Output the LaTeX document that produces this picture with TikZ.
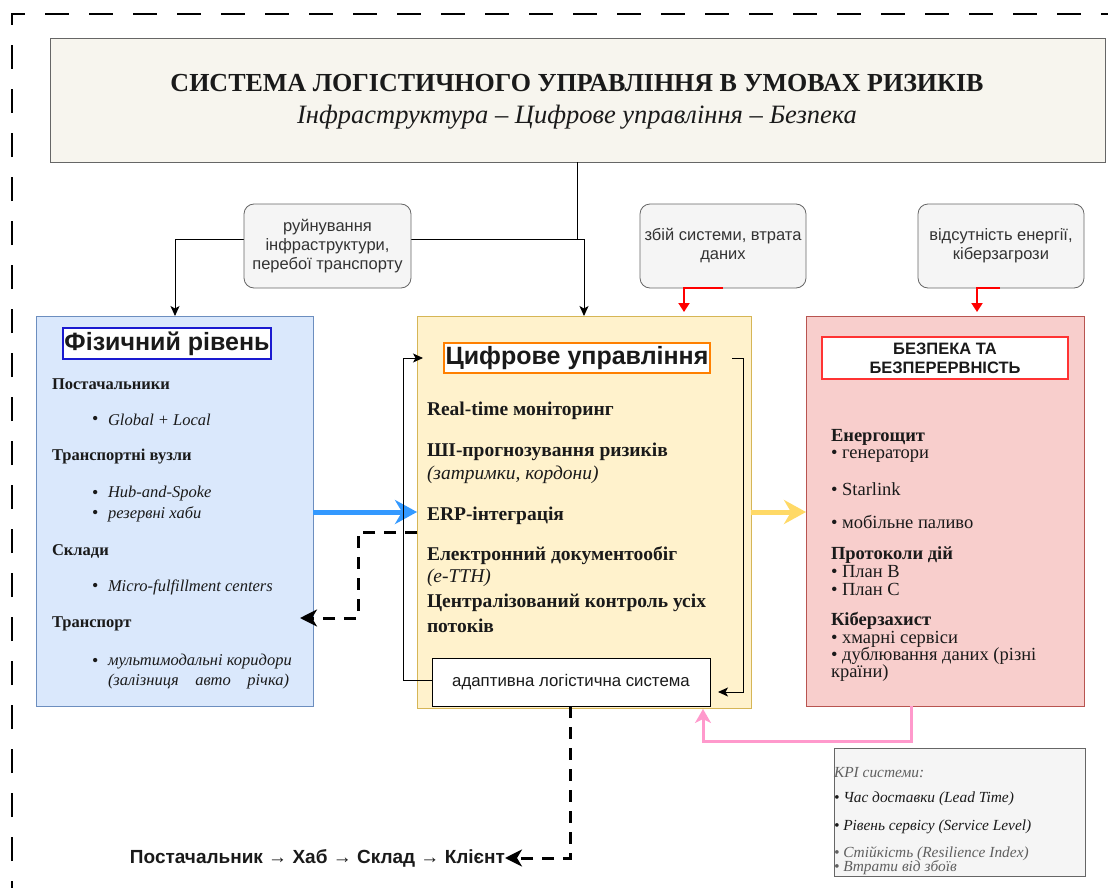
\documentclass[tikz,border=0pt]{standalone}
\usepackage{fontspec}
\setmainfont{Liberation Serif}
\setsansfont{Liberation Sans}
\usetikzlibrary{arrows.meta}
\definecolor{titlefill}{HTML}{F7F5EE}
\definecolor{physfill}{HTML}{DAE8FC}
\definecolor{physdraw}{HTML}{6C8EBF}
\definecolor{digfill}{HTML}{FFF2CC}
\definecolor{digdraw}{HTML}{D6B656}
\definecolor{secfill}{HTML}{F8CECC}
\definecolor{secdraw}{HTML}{B85450}
\definecolor{labfill}{HTML}{F5F5F5}
\definecolor{labdraw}{HTML}{666666}
\definecolor{bluearr}{HTML}{3399FF}
\definecolor{yelarr}{HTML}{FFD966}
\definecolor{pinkarr}{HTML}{FF99CC}
\definecolor{orangeb}{HTML}{FF8000}
\definecolor{blueb}{HTML}{1A1AD0}
\definecolor{redb}{HTML}{FF3333}
\definecolor{txt}{HTML}{1A1A1A}
\definecolor{labtxt}{HTML}{333333}
\definecolor{graytxt}{HTML}{606060}
\begin{document}
\begin{tikzpicture}[x=1pt,y=-1pt,
  every node/.style={inner sep=0pt,outer sep=0pt,text=txt},
  panel/.style={draw,line width=0.9pt},
  labelbox/.style={draw=labdraw,fill=labfill,line width=0.8pt,rounded corners=10pt,text=labtxt,font=\sffamily\fontsize{16.5}{19}\selectfont,align=center},
  headbox/.style={fill=white,line width=1.2pt,font=\sffamily\bfseries\fontsize{25}{28}\selectfont},
  lhead/.style={anchor=west,font=\bfseries\fontsize{16.5}{19}\selectfont},
  litem/.style={anchor=west,font=\itshape\fontsize{16.5}{19}\selectfont},
  lbul/.style={anchor=west,font=\fontsize{18}{19}\selectfont},
  chead/.style={anchor=west,font=\bfseries\fontsize{19.5}{22}\selectfont},
  citem/.style={anchor=west,font=\itshape\fontsize{19.5}{22}\selectfont},
  rhead/.style={anchor=west,font=\bfseries\fontsize{18.5}{21}\selectfont},
  ritem/.style={anchor=west,font=\fontsize{18.5}{21}\selectfont},
  kitem/.style={anchor=west,font=\itshape\fontsize{15.4}{17}\selectfont},
  conn/.style={line width=0.9pt,draw=black},
  thinarr/.style={conn,-{Stealth[length=10pt,width=9pt,inset=2.5pt]}},
  redarr/.style={line width=2pt,draw=red,-{Triangle[length=9pt,width=11pt]}},
  dasharr/.style={line width=3pt,draw=black,dash pattern=on 12pt off 9pt,-{Stealth[length=17pt,width=17pt,inset=5pt]}},
]
\useasboundingbox (0,0) rectangle (1108,888);
% outer dashed frame
\draw[line width=2.5pt,dash pattern=on 24pt off 20pt] (12,905) -- (12,14) -- (1125,14);

% title
\node[panel,draw=labdraw,fill=titlefill,minimum width=1055pt,minimum height=124pt] (title) at (577.5,100) {};
\node[font=\bfseries\fontsize{26}{30}\selectfont] (t1) at (577,83) {СИСТЕМА ЛОГІСТИЧНОГО УПРАВЛІННЯ В УМОВАХ РИЗИКІВ};
\node[font=\itshape\fontsize{26.5}{30}\selectfont] (t2) at (577,117) {Інфраструктура – Цифрове управління – Безпека};

% main panels
\node[panel,draw=physdraw,fill=physfill,minimum width=277pt,minimum height=390pt] (phys) at (174.5,511) {};
\node[panel,draw=digdraw,fill=digfill,minimum width=334pt,minimum height=392pt] (dig) at (584,512) {};
\node[panel,draw=secdraw,fill=secfill,minimum width=278pt,minimum height=390pt] (sec) at (945,511) {};

% headers
\node[headbox,draw=blueb,minimum width=208pt,minimum height=31pt] (physh) at (167,343.5) {Фізичний рівень};
\node[headbox,draw=orangeb,minimum width=266pt,minimum height=30pt] (digh) at (577,358) {Цифрове управління};
\node[headbox,draw=redb,minimum width=246pt,minimum height=42pt,align=center,font=\sffamily\bfseries\fontsize{16.5}{19}\selectfont] (sech) at (945,358) {БЕЗПЕКА ТА\\БЕЗПЕРЕРВНІСТЬ};

% physical content
\node[lhead] (p1) at (52,384) {Постачальники};
\node[lbul] (p1b) at (92,420) {•};
\node[litem] (p1i) at (108,420) {Global + Local};
\node[lhead] (p2) at (52,457) {Транспортні вузли};
\node[lbul] (p2b) at (92,494) {•};
\node[litem] (p2i) at (108,494) {Hub-and-Spoke};
\node[lbul] (p2c) at (92,514) {•};
\node[litem] (p2j) at (108,514) {резервні хаби};
\node[lhead] (p3) at (52,551) {Склади};
\node[lbul] (p3b) at (92,587) {•};
\node[litem] (p3i) at (108,587) {Micro-fulfillment centers};
\node[lhead] (p4) at (52,624) {Транспорт};
\node[lbul] (p4b) at (92,662) {•};
\node[litem] (p4i) at (108,662) {мультимодальні коридори};
\node[litem] (p4j) at (108,682) {(залізниця\quad авто\quad річка)};

% digital content
\node[chead] (d1) at (427,411) {Real-time моніторинг};
\node[chead] (d2) at (427,452) {ШІ-прогнозування ризиків};
\node[citem] (d2i) at (427,475) {(затримки, кордони)};
\node[chead] (d3) at (427,516) {ERP-інтеграція};
\node[chead] (d4) at (427,556) {Електронний документообіг};
\node[citem] (d4i) at (427,578) {(e-ТТН)};
\node[chead] (d5) at (427,603) {Централізований контроль усіх};
\node[chead] (d5b) at (427,626) {потоків};
\node[draw=black,fill=white,line width=0.9pt,minimum width=278pt,minimum height=48pt,font=\sffamily\fontsize{16.8}{19}\selectfont] (adapt) at (571,682) {адаптивна логістична система};

% security content
\node[rhead] (s1) at (831,437) {Енергощит};
\node[ritem] (s1a) at (831,456) {• генератори};
\node[ritem] (s1b) at (831,489) {• Starlink};
\node[ritem] (s1c) at (831,522) {• мобільне паливо};
\node[rhead] (s2) at (831,555) {Протоколи дій};
\node[ritem] (s2a) at (831,572) {• План В};
\node[ritem] (s2b) at (831,589) {• План С};
\node[rhead] (s3) at (831,621) {Кіберзахист};
\node[ritem] (s3a) at (831,639) {• хмарні сервіси};
\node[ritem] (s3b) at (831,656) {• дублювання даних (різні};
\node[ritem] (s3c) at (831,673) {країни)};

% KPI
\node[panel,draw=labdraw,fill=labfill,minimum width=251pt,minimum height=128pt] (kpi) at (959.5,812) {};
\node[kitem,text=graytxt] (k0) at (834,773) {KPI системи:};
\node[kitem] (k1) at (834,799) {• Час доставки (Lead Time)};
\node[kitem] (k2) at (834,827) {• Рівень сервісу (Service Level)};
\node[kitem,text=graytxt] (k3) at (834,854) {• Стійкість (Resilience Index)};
\node[kitem,text=graytxt] (k4) at (834,868) {• Втрати від збоїв};

% bottom flow
\node[anchor=east,font=\sffamily\bfseries\fontsize{19}{22}\selectfont] (flow) at (505,858) {Постачальник → Хаб → Склад → Клієнт};

% coordinates
\coordinate (hl) at (175,239);
\coordinate (hr) at (584,239);
\coordinate (dd) at (358,618);
\coordinate (ddend) at (300,618);
\coordinate (ll) at (403,358);
\coordinate (lltip) at (423,358);
\coordinate (rl0) at (732,358);
\coordinate (rl1) at (743,692);
\coordinate (rltip) at (718,692);
\coordinate (r1s) at (723,288);
\coordinate (r1t) at (684,312);
\coordinate (r2s) at (1000,288);
\coordinate (r2t) at (977,312);
\coordinate (pk1) at (703,741);
\coordinate (pktip) at (703,709);

% connectors from title
\draw[thinarr] (title.south) |- (hl) -- (hl |- phys.north);
\draw[thinarr] (title.south) |- (hr) -- (hr |- dig.north);

% risk labels
\node[labelbox,minimum width=167pt,minimum height=84pt] (lab1) at (327.5,246) {руйнування\\інфраструктури,\\перебої транспорту};
\node[labelbox,minimum width=166pt,minimum height=84pt] (lab2) at (723,246) {збій системи, втрата\\даних};
\node[labelbox,minimum width=166pt,minimum height=84pt] (lab3) at (1001,246) {відсутність енергії,\\кіберзагрози};

\draw[redarr] (r1s) -| (r1t);
\draw[redarr] (r2s) -| (r2t);

% flows between panels
\draw[line width=5pt,draw=bluearr,-{Stealth[length=22pt,width=24pt,inset=7pt]}] (phys.east |- 0,512) -- (dig.west |- 0,512);
\draw[line width=5pt,draw=yelarr,-{Stealth[length=22pt,width=24pt,inset=7pt]}] (dig.east |- 0,512) -- (sec.west |- 0,512);
\draw[dasharr] (dig.west |- 0,532) -| (dd) -- (ddend);

% feedback loops
\draw[thinarr] (adapt.west |- 0,680) -| (ll) -- (lltip);
\draw[thinarr] (rl0) -| (rl1) -- (rltip);

% pink
\draw[line width=3pt,draw=pinkarr,-{Stealth[length=14pt,width=16pt,inset=4pt]}] (sec.south -| 911,0) |- (pk1) -- (pktip);

% bottom dashed
\draw[dasharr] (adapt.south -| 570,0) |- (flow.east);
\end{tikzpicture}
\end{document}
